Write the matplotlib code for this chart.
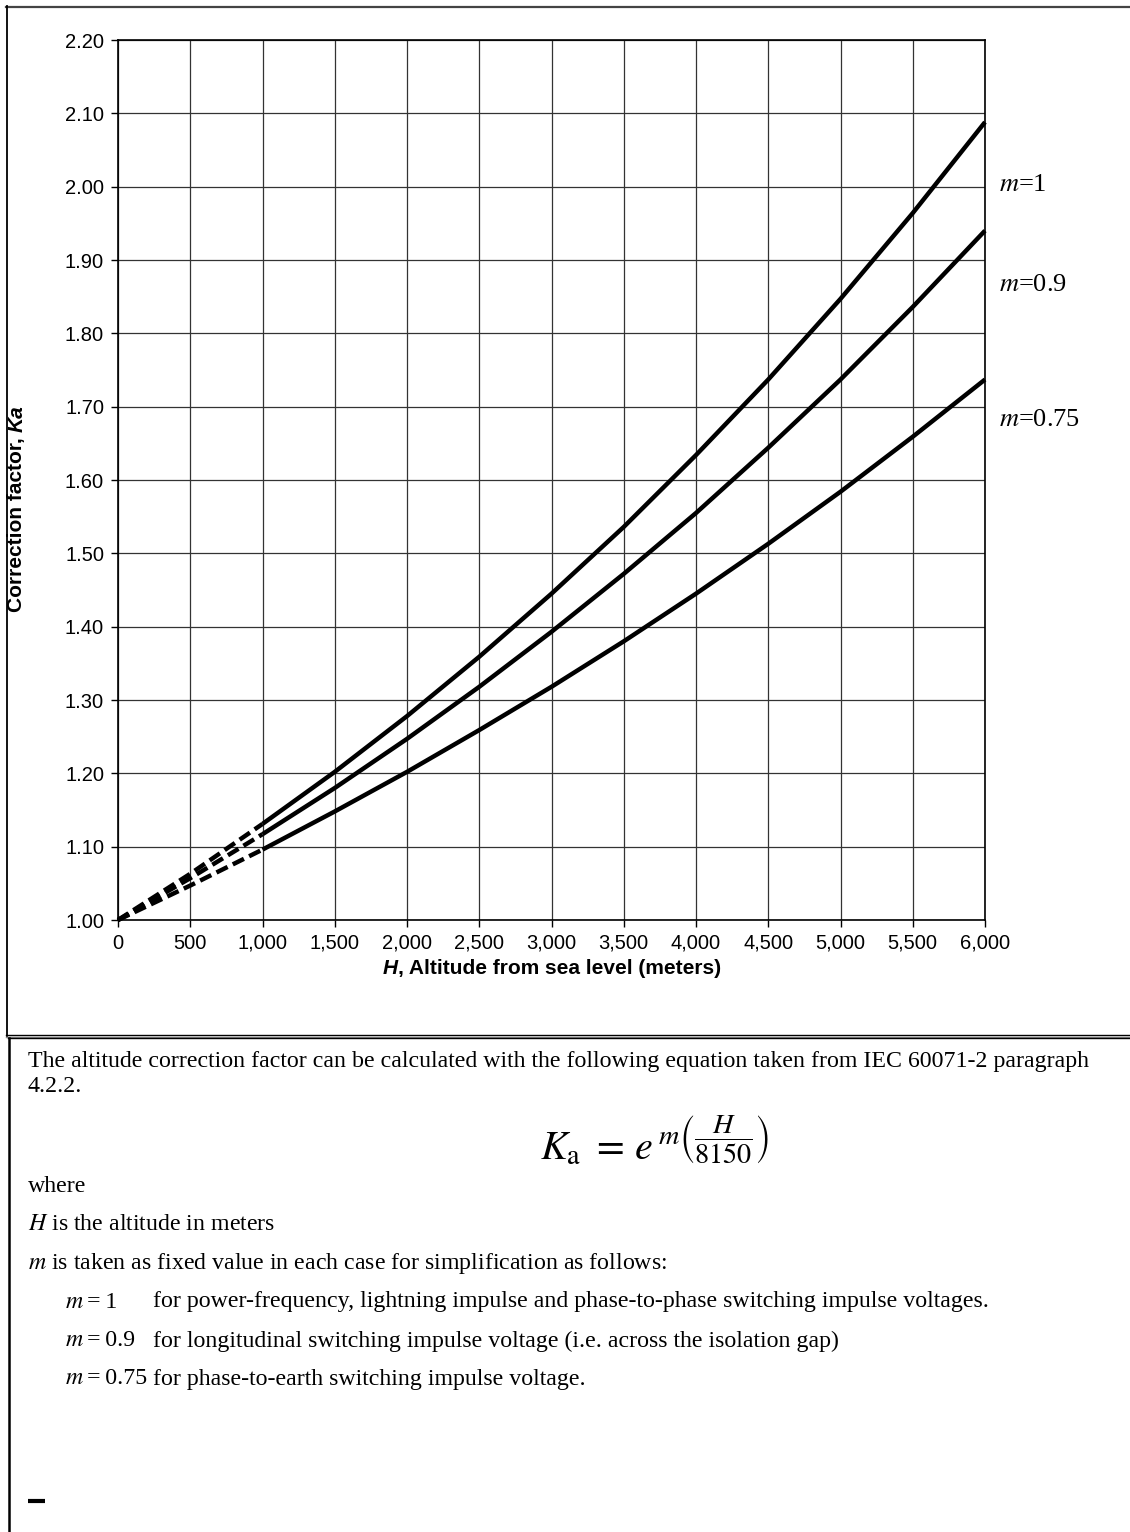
import matplotlib
matplotlib.use("Agg")
import matplotlib.pyplot as plt
from matplotlib.lines import Line2D
from matplotlib.ticker import FuncFormatter

# ---- data ----
altitude = [0, 500, 1000, 1500, 2000, 2500, 3000, 3500, 4000, 4500, 5000, 5500, 6000]
ka_m100 = [1.000, 1.063, 1.131, 1.202, 1.278, 1.359, 1.445, 1.536, 1.634, 1.737, 1.847, 1.964, 2.088]
ka_m090 = [1.000, 1.057, 1.117, 1.180, 1.247, 1.318, 1.393, 1.472, 1.555, 1.644, 1.737, 1.836, 1.940]
ka_m075 = [1.000, 1.047, 1.096, 1.148, 1.202, 1.259, 1.318, 1.380, 1.445, 1.513, 1.584, 1.659, 1.737]
series_labels = ["=1", "=0.9", "=0.75"]
label_y = [2.002, 1.866, 1.682]
dashed_until = 1000
x_ticks = [0, 500, 1000, 1500, 2000, 2500, 3000, 3500, 4000, 4500, 5000, 5500, 6000]
y_ticks = [1.00, 1.10, 1.20, 1.30, 1.40, 1.50, 1.60, 1.70, 1.80, 1.90, 2.00, 2.10, 2.20]

plt.rcParams["mathtext.fontset"] = "stix"

W, H = 1130, 1532
fig = plt.figure(figsize=(W / 100, H / 100), dpi=100)
fig.patch.set_facecolor("white")


def fx(x):
    return x / W


def fy(y):
    return 1 - y / H


ax = fig.add_axes([fx(118), fy(920), fx(985) - fx(118), fy(40) - fy(920)])
ax.set_xlim(0, 6000)
ax.set_ylim(1.0, 2.2)
ax.set_xticks(x_ticks)
ax.set_yticks(y_ticks)
ax.xaxis.set_major_formatter(FuncFormatter(lambda v, p: f"{int(v):,}"))
ax.yaxis.set_major_formatter(FuncFormatter(lambda v, p: f"{v:.2f}"))
ax.grid(True, color="#333333", linewidth=0.9)
ax.set_axisbelow(True)
for s in ax.spines.values():
    s.set_color("black")
    s.set_linewidth(1.2)
ax.tick_params(direction="out", length=5, width=1, colors="black",
               labelsize=14.5, pad=5)
for lab in ax.get_xticklabels() + ax.get_yticklabels():
    lab.set_fontfamily("Liberation Sans")

for vals, lab, ly in zip([ka_m100, ka_m090, ka_m075], series_labels, label_y):
    xs_d = [a for a in altitude if a <= dashed_until]
    ys_d = vals[:len(xs_d)]
    xs_s = [a for a in altitude if a >= dashed_until]
    ys_s = vals[len(xs_d) - 1:]
    ax.plot(xs_d, ys_d, color="black", linewidth=3.2, linestyle=(0, (2.8, 1.3)),
            solid_capstyle="butt", dash_capstyle="butt", clip_on=False, zorder=3)
    ax.plot(xs_s, ys_s, color="black", linewidth=3.2, solid_capstyle="butt",
            clip_on=False, zorder=3)
    ax.text(6100, ly, r"$m$" + lab, family="Liberation Serif", fontsize=19,
            ha="left", va="center", clip_on=False)

renderer = fig.canvas.get_renderer()
FW, FH = fig.bbox.width, fig.bbox.height

# x label: bold italic H + bold rest, centred on the axes
lab_fs = 15
t1 = fig.text(0, fy(968), "H", fontsize=lab_fs, fontweight="bold", fontstyle="italic",
              family="Liberation Sans", ha="left", va="center")
t1b = fig.text(0, fy(968), ", Altitude from sea level (meters)", fontsize=lab_fs,
               fontweight="bold", family="Liberation Sans", ha="left", va="center")
w1 = t1.get_window_extent(renderer=renderer).width
w2 = t1b.get_window_extent(renderer=renderer).width
x0 = 551.5 - (w1 + w2) / 2
t1.set_x(fx(x0))
t1b.set_x(fx(x0 + w1))

# y label
t2 = fig.text(fx(17), fy(612), "Correction factor, ", fontsize=lab_fs, fontweight="bold",
              family="Liberation Sans", rotation=90, ha="center", va="bottom")
bb2 = t2.get_window_extent(renderer=renderer)
fig.text(fx(17), bb2.y1 / FH, "Ka", fontsize=lab_fs, fontweight="bold",
         fontstyle="italic", family="Liberation Sans", rotation=90, ha="center", va="bottom")


# frame lines
def hline(y, x0, x1, color="black", lw=1.5):
    fig.add_artist(Line2D([fx(x0), fx(x1)], [fy(y), fy(y)], color=color, linewidth=lw,
                          transform=fig.transFigure))


def vline(x, y0, y1, color="black", lw=1.5):
    fig.add_artist(Line2D([fx(x), fx(x)], [fy(y0), fy(y1)], color=color, linewidth=lw,
                          transform=fig.transFigure))


hline(6.5, 6, 1130, color="#444444", lw=1.6)
vline(6.5, 6, 1036, lw=1.3)
hline(1035, 6, 1130, lw=1.0)
hline(1036.5, 6, 1130, color="#888888", lw=1.0)
hline(1038, 8, 1130, lw=1.0)
vline(8.5, 1038, 1532, lw=1.8)

# text block
serif = "Liberation Serif"
fs = 17.2
fig.text(fx(28), fy(1062), "The altitude correction factor can be calculated with the following "
         "equation taken from IEC 60071-2 paragraph", family=serif, fontsize=fs, va="center")
fig.text(fx(28), fy(1086), "4.2.2.", family=serif, fontsize=fs, va="center")
fig.text(fx(540), fy(1160), r"$K_{\mathrm{a}}\ =\, e^{\,m\left(\dfrac{H}{8150}\right)}$",
         fontsize=29, va="baseline", ha="left")
fig.text(fx(28), fy(1186), "where", family=serif, fontsize=fs, va="center")
fig.text(fx(28), fy(1224), r"$H$ is the altitude in meters", family=serif, fontsize=fs, va="center")
fig.text(fx(28), fy(1263), r"$m$ is taken as fixed value in each case for simplification as follows:",
         family=serif, fontsize=fs, va="center")
rows = [("=\u20091", 3, "for power-frequency, lightning impulse and phase-to-phase switching impulse voltages."),
        ("=\u20090.9", 3, "for longitudinal switching impulse voltage (i.e. across the isolation gap)"),
        ("=\u20090.75", 3, "for phase-to-earth switching impulse voltage.")]
for (a, gap, b), y in zip(rows, [1302, 1341, 1379]):
    tm = fig.text(fx(65), fy(y), r"$m$", family=serif, fontsize=fs, va="center")
    m_end = tm.get_window_extent(renderer=renderer).x1
    fig.text(fx(m_end + gap), fy(y), a, family=serif, fontsize=fs, va="center")
    fig.text(fx(153), fy(y), b, family=serif, fontsize=fs, va="center")

fig.add_artist(Line2D([fx(28), fx(45)], [fy(1501), fy(1501)], color="black", linewidth=3,
                      solid_capstyle="butt", transform=fig.transFigure))

fig.savefig("out.png", dpi=100, facecolor="white")
